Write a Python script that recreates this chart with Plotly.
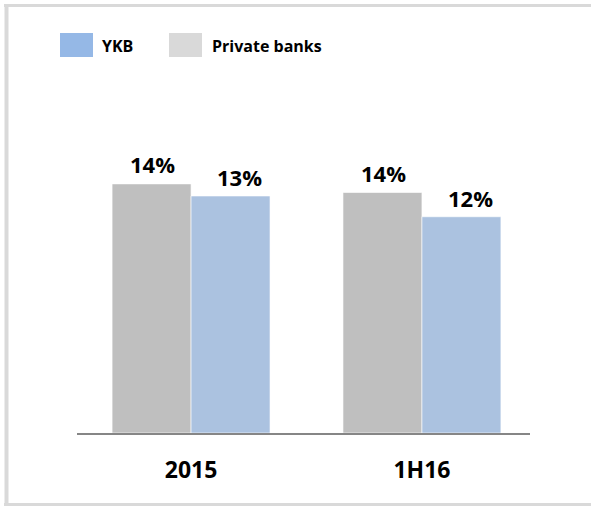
import plotly.graph_objects as go

categories = ["2015", "1H16"]
private_banks = [14.4, 13.9]
ykb = [13.7, 12.5]
private_labels = ["14%", "14%"]
ykb_labels = ["13%", "12%"]

W, H = 591, 506
ML, MR, MT, MB = 77, 61, 87, 73
PW, PH = W - ML - MR, H - MT - MB
YMAX = 20
BARGAP = 0.316

GRAY = "#BFBFBF"
BLUE = "#ABC2E0"
LEG_BLUE = "#95B8E6"
LEG_GRAY = "#D9D9D9"
FONT = "Open Sans"


def px(x):
    return (x - ML) / PW


def py(y):
    return (H - MB - y) / PH


fig = go.Figure()
fig.add_trace(go.Bar(x=categories, y=private_banks, name="Private banks",
                     marker=dict(color=GRAY, line=dict(width=0.6, color="white")),
                     showlegend=False, hoverinfo="skip"))
fig.add_trace(go.Bar(x=categories, y=ykb, name="YKB",
                     marker=dict(color=BLUE, line=dict(width=0.6, color="white")),
                     showlegend=False, hoverinfo="skip"))

half = (1 - BARGAP) / 4
annotations = []
for i, (v, t) in enumerate(zip(private_banks, private_labels)):
    annotations.append(dict(x=i - half, y=v, xref="x", yref="y", text=t, showarrow=False,
                            yanchor="middle", yshift=20, xshift=1,
                            font=dict(family=FONT, size=22, color="black", weight="bold")))
for i, (v, t) in enumerate(zip(ykb, ykb_labels)):
    annotations.append(dict(x=i + half, y=v, xref="x", yref="y", text=t, showarrow=False,
                            yanchor="middle", yshift=19, xshift=9,
                            font=dict(family=FONT, size=22, color="black", weight="bold")))

# legend (manual, to reproduce large swatches)
legend_items = [("YKB", LEG_BLUE, 60, 100), ("Private banks", LEG_GRAY, 169, 210)]
shapes = []
for name, col, sx, tx in legend_items:
    shapes.append(dict(type="rect", xref="paper", yref="paper",
                       x0=px(sx), x1=px(sx + 33), y0=py(57), y1=py(33),
                       fillcolor=col, line=dict(width=0)))
    annotations.append(dict(x=px(tx), y=py(46), xref="paper", yref="paper", text=name,
                            showarrow=False, xanchor="left", yanchor="middle",
                            font=dict(family=FONT, size=16, color="black", weight="bold")))

# outer frame
FRAME = "#D9D9D9"
shapes.append(dict(type="line", xref="paper", yref="paper", x0=px(4), x1=px(600),
                   y0=py(5.5), y1=py(5.5), line=dict(color=FRAME, width=3)))
shapes.append(dict(type="line", xref="paper", yref="paper", x0=px(4), x1=px(600),
                   y0=py(504.5), y1=py(504.5), line=dict(color=FRAME, width=3)))
shapes.append(dict(type="line", xref="paper", yref="paper", x0=px(6.5), x1=px(6.5),
                   y0=py(4), y1=py(510), line=dict(color=FRAME, width=4)))

fig.update_layout(
    width=W, height=H,
    margin=dict(l=ML, r=MR, t=MT, b=MB, pad=0),
    paper_bgcolor="white", plot_bgcolor="white",
    barmode="group", bargap=BARGAP, bargroupgap=0,
    shapes=shapes, annotations=annotations,
    showlegend=False,
    xaxis=dict(type="category", range=[-0.494, 1.468], showgrid=False, zeroline=False,
               showline=True, linecolor="#868686", linewidth=2, ticks="",
               ticklabelstandoff=15,
               tickfont=dict(family=FONT, size=23, color="black", weight="bold")),
    yaxis=dict(range=[0, YMAX], visible=False, showgrid=False, zeroline=False),
)

fig.write_html("out.html")
